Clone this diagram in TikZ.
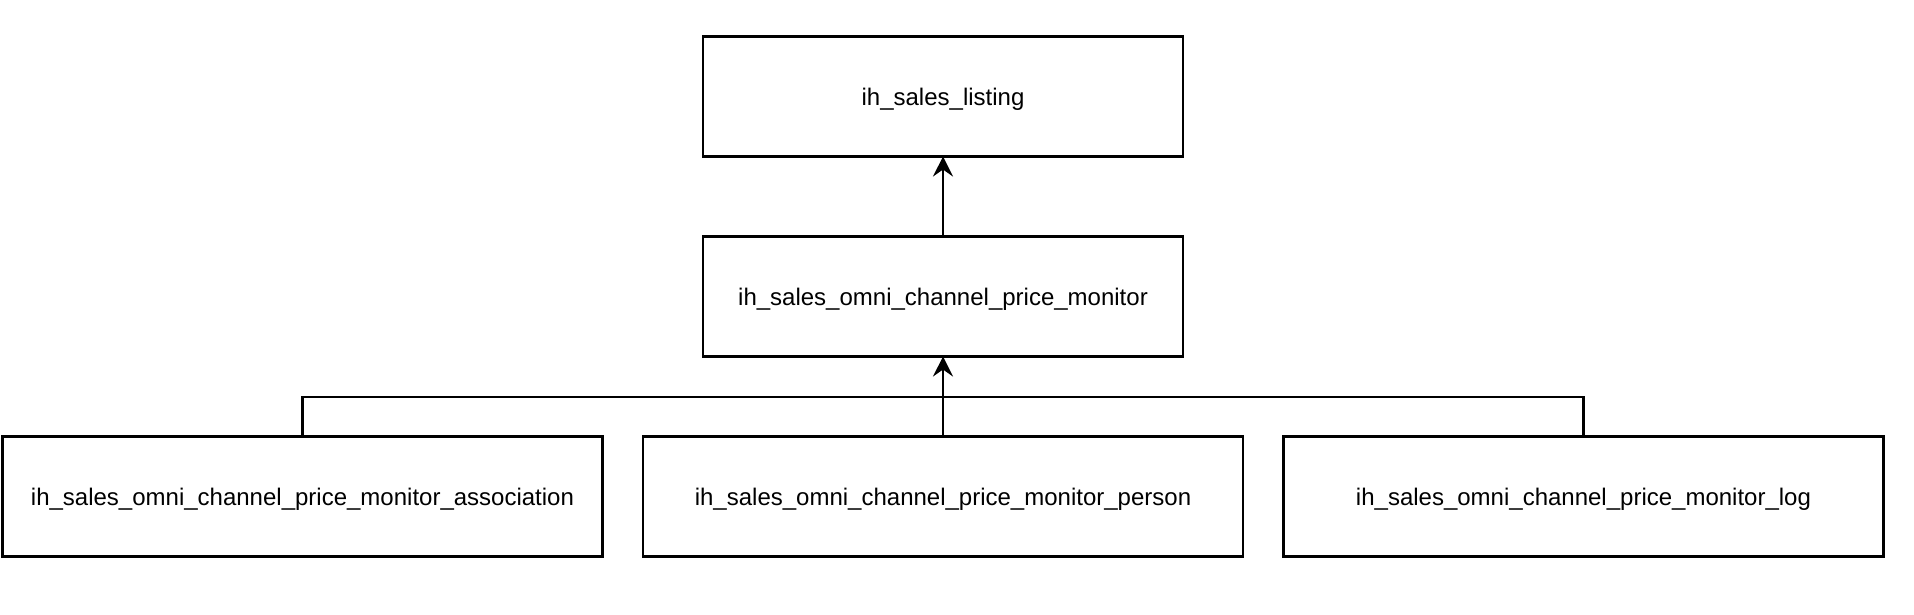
\documentclass[tikz,border=0pt]{standalone}
\usepackage{fontspec}
\setmainfont{Liberation Sans}
\usetikzlibrary{arrows.meta}

\tikzset{
  table/.style={draw, line width=0.6pt, inner sep=0pt, outer sep=0pt,
    minimum height=1.2cm, text height=0.7em, text depth=0.2em,
    font=\fontsize{6.83}{8}\selectfont},
  small table/.style={table, minimum width=4.8cm},
  wide table/.style={table, minimum width=6.0cm}
}

\begin{document}
\begin{tikzpicture}[>={Stealth[length=2mm,width=2mm,inset=0.7mm]}]
            \useasboundingbox (0,0) rectangle (19.14,-6.14);

            \node[small table] (listing) at (9.43,-0.965) {ih\_sales\_listing};
            \node[small table] (monitor) at (9.43,-2.965) {ih\_sales\_omni\_channel\_price\_monitor};

            \node[wide table] (association) at (3.025,-4.965) {ih\_sales\_omni\_channel\_price\_monitor\_association};
            \node[wide table] (person) at (9.43,-4.965) {ih\_sales\_omni\_channel\_price\_monitor\_person};
            \node[wide table] (log) at (15.835,-4.965) {ih\_sales\_omni\_channel\_price\_monitor\_log};

            \coordinate (bus) at (0,-3.97);

            \draw[->, line width=0.6pt] (monitor) -- (listing);
            \draw[->, line width=0.6pt] (person) -- (monitor);
            \draw[line width=0.6pt] (association.north) -- (association.north |- bus) -- (log.north |- bus) -- (log.north);
        \end{tikzpicture}
\end{document}
